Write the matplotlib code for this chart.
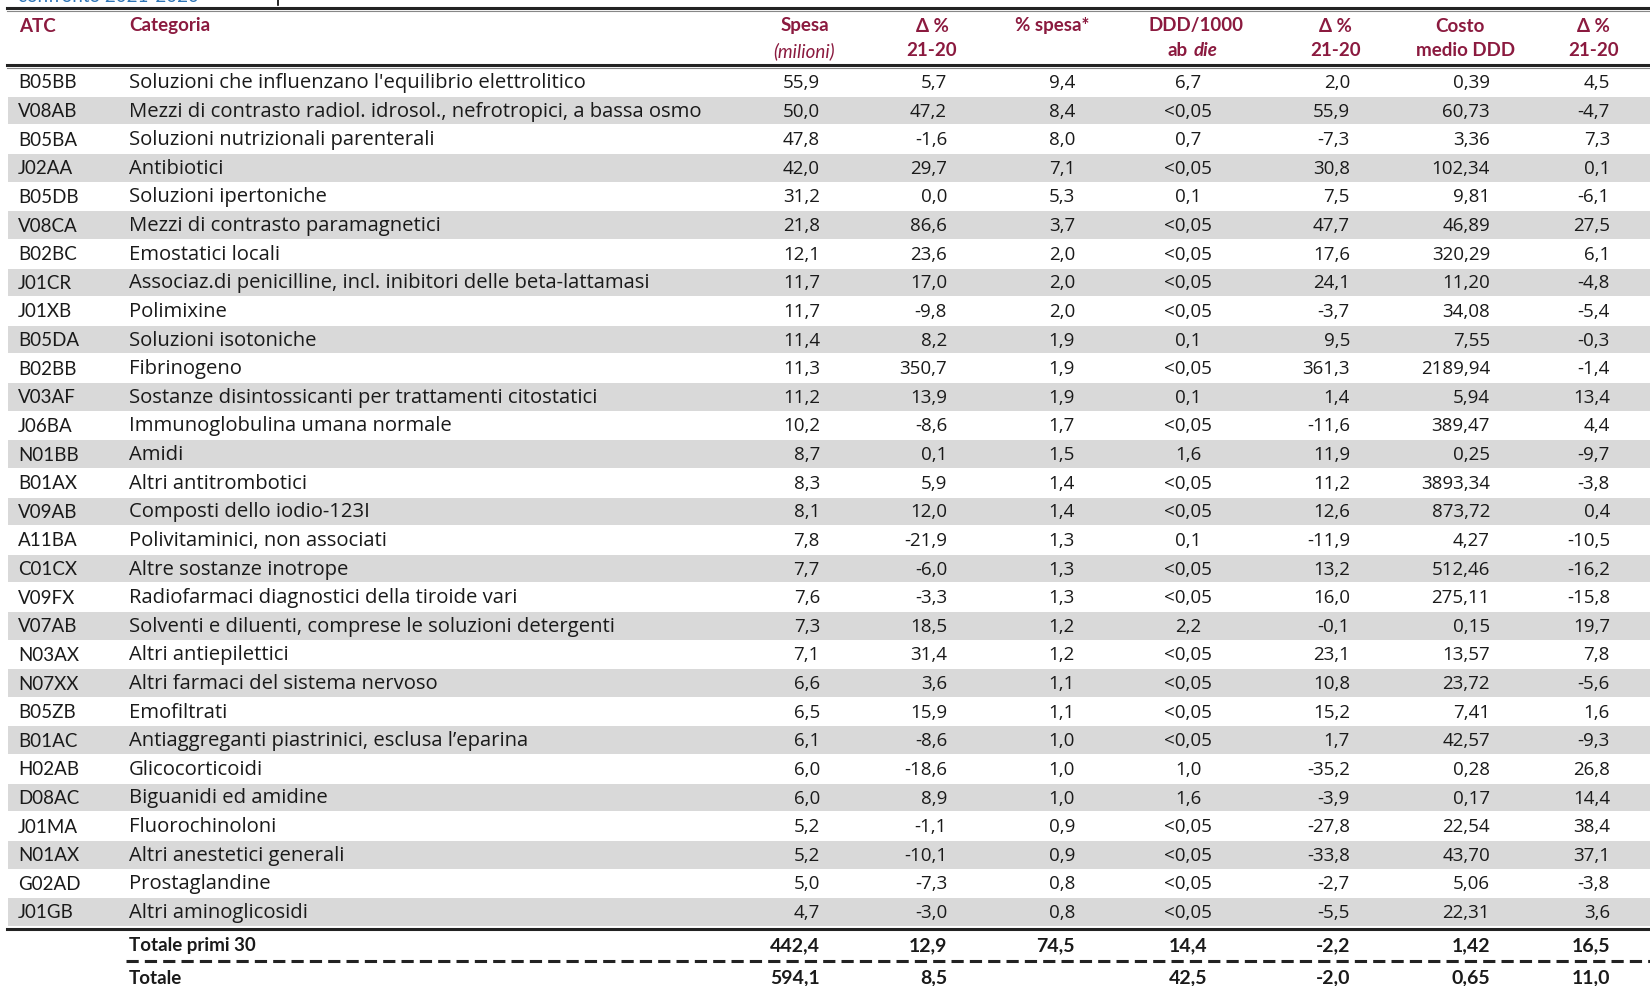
import matplotlib
matplotlib.use("Agg")
import matplotlib.pyplot as plt
from matplotlib.patches import Rectangle

plt.rcParams['font.family'] = ['Lato', 'DejaVu Sans']

# Data
atc = ["B05BB", "V08AB", "B05BA", "J02AA", "B05DB", "V08CA", "B02BC", "J01CR", "J01XB", "B05DA",
       "B02BB", "V03AF", "J06BA", "N01BB", "B01AX", "V09AB", "A11BA", "C01CX", "V09FX", "V07AB",
       "N03AX", "N07XX", "B05ZB", "B01AC", "H02AB", "D08AC", "J01MA", "N01AX", "G02AD", "J01GB"]
categorie = [
    "Soluzioni che influenzano l'equilibrio elettrolitico",
    "Mezzi di contrasto radiol. idrosol., nefrotropici, a bassa osmo",
    "Soluzioni nutrizionali parenterali",
    "Antibiotici",
    "Soluzioni ipertoniche",
    "Mezzi di contrasto paramagnetici",
    "Emostatici locali",
    "Associaz.di penicilline, incl. inibitori delle beta-lattamasi",
    "Polimixine",
    "Soluzioni isotoniche",
    "Fibrinogeno",
    "Sostanze disintossicanti per trattamenti citostatici",
    "Immunoglobulina umana normale",
    "Amidi",
    "Altri antitrombotici",
    "Composti dello iodio-123I",
    "Polivitaminici, non associati",
    "Altre sostanze inotrope",
    "Radiofarmaci diagnostici della tiroide vari",
    "Solventi e diluenti, comprese le soluzioni detergenti",
    "Altri antiepilettici",
    "Altri farmaci del sistema nervoso",
    "Emofiltrati",
    "Antiaggreganti piastrinici, esclusa l\u2019eparina",
    "Glicocorticoidi",
    "Biguanidi ed amidine",
    "Fluorochinoloni",
    "Altri anestetici generali",
    "Prostaglandine",
    "Altri aminoglicosidi",
]
spesa = [55.9, 50.0, 47.8, 42.0, 31.2, 21.8, 12.1, 11.7, 11.7, 11.4, 11.3, 11.2, 10.2, 8.7, 8.3,
         8.1, 7.8, 7.7, 7.6, 7.3, 7.1, 6.6, 6.5, 6.1, 6.0, 6.0, 5.2, 5.2, 5.0, 4.7]
delta_spesa = [5.7, 47.2, -1.6, 29.7, 0.0, 86.6, 23.6, 17.0, -9.8, 8.2, 350.7, 13.9, -8.6, 0.1, 5.9,
               12.0, -21.9, -6.0, -3.3, 18.5, 31.4, 3.6, 15.9, -8.6, -18.6, 8.9, -1.1, -10.1, -7.3, -3.0]
perc_spesa = [9.4, 8.4, 8.0, 7.1, 5.3, 3.7, 2.0, 2.0, 2.0, 1.9, 1.9, 1.9, 1.7, 1.5, 1.4, 1.4, 1.3,
              1.3, 1.3, 1.2, 1.2, 1.1, 1.1, 1.0, 1.0, 1.0, 0.9, 0.9, 0.8, 0.8]
ddd = ["6,7", "<0,05", "0,7", "<0,05", "0,1", "<0,05", "<0,05", "<0,05", "<0,05", "0,1",
       "<0,05", "0,1", "<0,05", "1,6", "<0,05", "<0,05", "0,1", "<0,05", "<0,05", "2,2",
       "<0,05", "<0,05", "<0,05", "<0,05", "1,0", "1,6", "<0,05", "<0,05", "<0,05", "<0,05"]
delta_ddd = [2.0, 55.9, -7.3, 30.8, 7.5, 47.7, 17.6, 24.1, -3.7, 9.5, 361.3, 1.4, -11.6, 11.9, 11.2,
             12.6, -11.9, 13.2, 16.0, -0.1, 23.1, 10.8, 15.2, 1.7, -35.2, -3.9, -27.8, -33.8, -2.7, -5.5]
costo_ddd = [0.39, 60.73, 3.36, 102.34, 9.81, 46.89, 320.29, 11.20, 34.08, 7.55, 2189.94, 5.94,
             389.47, 0.25, 3893.34, 873.72, 4.27, 512.46, 275.11, 0.15, 13.57, 23.72, 7.41, 42.57,
             0.28, 0.17, 22.54, 43.70, 5.06, 22.31]
delta_costo = [4.5, -4.7, 7.3, 0.1, -6.1, 27.5, 6.1, -4.8, -5.4, -0.3, -1.4, 13.4, 4.4, -9.7, -3.8,
               0.4, -10.5, -16.2, -15.8, 19.7, 7.8, -5.6, 1.6, -9.3, 26.8, 14.4, 38.4, 37.1, -3.8, 3.6]

totali_label = ["Totale primi 30", "Totale"]
totali = [["442,4", "12,9", "74,5", "14,4", "-2,2", "1,42", "16,5"],
          ["594,1", "8,5", "", "42,5", "-2,0", "0,65", "11,0"]]

# Styling
header_color = '#8B1A3F'
text_color = '#1a1a1a'
band_color = '#d9d9d9'
fs = 13.5
wide_family = ['Open Sans', 'DejaVu Sans']
narrow_family = ['Liberation Sans Narrow', 'Lato', 'DejaVu Sans']


def fmt(v, d=1):
    return f"{v:.{d}f}".replace('.', ',')


fig = plt.figure(figsize=(16.5, 9.87), dpi=100)
ax = fig.add_axes([0, 0, 1, 1])
ax.set_xlim(0, 1650)
ax.set_ylim(987, 0)
ax.axis('off')

# column anchors (x, alignment)
cols = [(820, 'right'), (947, 'right'), (1075, 'right'), (1188, 'center'),
        (1350, 'right'), (1490, 'right'), (1610, 'right')]

row0, step = 83, 28.62
n = len(atc)
for i in range(n):
    y = row0 + i * step
    if i % 2 == 1:
        ax.add_patch(Rectangle((8, y - 13.8), 1642, 27.6, color=band_color, lw=0, zorder=0))
    vals = [fmt(spesa[i]), fmt(delta_spesa[i]), fmt(perc_spesa[i]), ddd[i],
            fmt(delta_ddd[i]), fmt(costo_ddd[i], 2), fmt(delta_costo[i])]
    ax.text(18, y, atc[i], ha='left', va='center', fontsize=13.5, color=text_color,
            family=narrow_family)
    ax.text(129, y, categorie[i], ha='left', va='center', fontsize=14.6, color=text_color,
            family=wide_family)
    for (x, ha), v in zip(cols, vals):
        ax.text(x, y, v, ha=ha, va='center', fontsize=13.5, color=text_color, family=wide_family)

# headers
h1, h2 = 26, 51
hk = dict(va='center', fontsize=fs, color=header_color, fontweight='bold')
ax.text(19, h1, "ATC", ha='left', **hk)
ax.text(129, h1, "Categoria", ha='left', **hk)
ax.text(805, h1, "Spesa", ha='center', **hk)
ax.text(804, h2, "(milioni)", ha='center', style='italic', va='center', fontsize=fs, color=header_color)
ax.text(932, h1, "\u0394 %", ha='center', **hk)
ax.text(932, h2, "21-20", ha='center', **hk)
ax.text(1052, h1, "% spesa*", ha='center', **hk)
ax.text(1196, h1, "DDD/1000", ha='center', **hk)
ax.text(1188, h2, "ab", ha='right', **hk)
ax.text(1194, h2, "die", ha='left', style='italic', **hk)
ax.text(1335, h1, "\u0394 %", ha='center', **hk)
ax.text(1336, h2, "21-20", ha='center', **hk)
ax.text(1460, h1, "Costo", ha='center', **hk)
ax.text(1466, h2, "medio DDD", ha='center', **hk)
ax.text(1593, h1, "\u0394 %", ha='center', **hk)
ax.text(1594, h2, "21-20", ha='center', **hk)

# caption line cut off at the top edge, as in the source page
ax.text(18, -4, "confronto 2021-2020", ha='left', va='center', fontsize=fs, color='#2E75B6')
ax.plot([278, 278], [0, 6], color='black', lw=1.2)

# rules
ax.plot([7, 1650], [9, 9], color='#222222', lw=2.2)
ax.plot([7, 1650], [11.5, 11.5], color='#888888', lw=0.8)
ax.plot([7, 1650], [66, 66], color='#222222', lw=2.2)
ax.plot([7, 1650], [68.5, 68.5], color='#888888', lw=0.8)
ax.plot([7, 1650], [930, 930], color='#222222', lw=2.2)
ax.plot([126, 1650], [962, 962], color='#222222', lw=2.2, linestyle=(0, (4, 2)))

# totals
for label, vals, y in zip(totali_label, totali, [946, 978]):
    ax.text(129, y, label, ha='left', va='center', fontsize=fs, color=text_color, fontweight='bold')
    for (x, ha), v in zip(cols, vals):
        ax.text(x, y, v, ha=ha, va='center', fontsize=14, color=text_color, fontweight='bold')

fig.savefig('out.png', dpi=100)
